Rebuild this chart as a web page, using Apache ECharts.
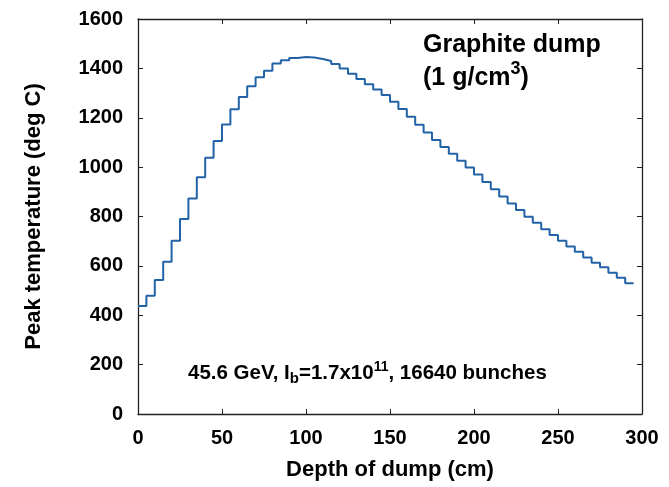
<!DOCTYPE html>
<html>
<head>
<meta charset="utf-8">
<script src="https://cdn.jsdelivr.net/npm/echarts@6/dist/echarts.min.js"></script>
<style>
html,body{margin:0;padding:0;background:#fff;}
#chart{width:669px;height:487px;}
</style>
</head>
<body>
<div id="chart"></div>
<script>
// Bin start depths (cm), 5 cm bins
var binStarts = [0,5,10,15,20,25,30,35,40,45,50,55,60,65,70,75,80,85,90,95,100,105,110,115,120,125,130,135,140,145,150,155,160,165,170,175,180,185,190,195,200,205,210,215,220,225,230,235,240,245,250,255,260,265,270,275,280,285,290];
var binEnd = 295;
// Peak temperature per bin (deg C)
var peakTemp = [437,479,543,617,702,790,873,959,1038,1106,1173,1234,1284,1328,1364,1390,1420,1433,1442,1446,1444,1438,1430,1418,1400,1378,1357,1336,1314,1292,1265,1235,1204,1172,1140,1110,1082,1054,1026,998,970,940,910,881,853,826,799,775,748,725,702,678,657,634,613,594,572,552,530];
var xTicks = {min:0, max:300, interval:50};
var yTicks = {min:0, max:1600, interval:200};

var data = binStarts.map(function(x,i){return [x, peakTemp[i]];});
data.push([binEnd, peakTemp[peakTemp.length-1]]);

var FONT = '"Liberation Sans", Arial, Helvetica, sans-serif';
var chart = echarts.init(document.getElementById('chart'), null, {renderer:'canvas'});
var axisLineStyle = {show:true, onZero:false, lineStyle:{color:'#222', width:1.3}};
var tick = {show:true, inside:true, length:5, lineStyle:{color:'#222', width:1}};
var plain = function(v){return String(v);};
chart.setOption({
  animation:false,
  backgroundColor:'#fff',
  grid:{left:138, right:27, top:19, bottom:73},
  xAxis:[{
    type:'value', min:xTicks.min, max:xTicks.max, interval:xTicks.interval,
    name:'Depth of dump (cm)', nameLocation:'middle', nameGap:45,
    nameTextStyle:{fontFamily:FONT, fontWeight:'bold', fontSize:22, color:'#000'},
    axisLine:axisLineStyle, axisTick:tick, splitLine:{show:false},
    axisLabel:{fontFamily:FONT, fontWeight:'bold', fontSize:20, color:'#000', margin:14, formatter:plain}
  },{
    type:'value', position:'top', min:xTicks.min, max:xTicks.max, interval:xTicks.interval,
    axisLine:axisLineStyle, axisTick:tick, splitLine:{show:false}, axisLabel:{show:false}
  }],
  yAxis:[{
    type:'value', min:yTicks.min, max:yTicks.max, interval:yTicks.interval,
    name:'Peak temperature (deg C)', nameLocation:'middle', nameGap:93,
    nameTextStyle:{fontFamily:FONT, fontWeight:'bold', fontSize:22, color:'#000'},
    axisLine:axisLineStyle, axisTick:tick, splitLine:{show:false},
    axisLabel:{fontFamily:FONT, fontWeight:'bold', fontSize:20, color:'#000', margin:15, formatter:plain}
  },{
    type:'value', position:'right', min:yTicks.min, max:yTicks.max, interval:yTicks.interval,
    axisLine:axisLineStyle, axisTick:tick, splitLine:{show:false}, axisLabel:{show:false}
  }],
  series:[{
    type:'line', step:'end', data:data, showSymbol:false, symbol:'none',
    lineStyle:{color:'#2262a6', width:2}, xAxisIndex:0, yAxisIndex:0
  }],
  graphic:[
    {type:'text', left:423, top:33, style:{text:'Graphite dump', font:'bold 25px '+FONT, fill:'#000'}},
    {type:'text', left:423, top:60, style:{
      text:'{n|(1 g/cm}{s|3}{n|)}',
      rich:{n:{font:'bold 25px '+FONT, fill:'#000', padding:[6,0,0,0]},
            s:{font:'bold 18px '+FONT, fill:'#000', padding:[0,0,12,0]}}
    }},
    {type:'text', left:188, top:360, style:{
      text:'{n|45.6 GeV, I}{sub|b}{n|=1.7x10}{sup|11}{n|, 16640 bunches}',
      rich:{n:{font:'bold 20.5px '+FONT, fill:'#000'},
            sub:{font:'bold 15px '+FONT, fill:'#000', padding:[12,0,0,0]},
            sup:{font:'bold 14px '+FONT, fill:'#000', padding:[0,0,12,0]}}
    }}
  ]
});
</script>
</body>
</html>
